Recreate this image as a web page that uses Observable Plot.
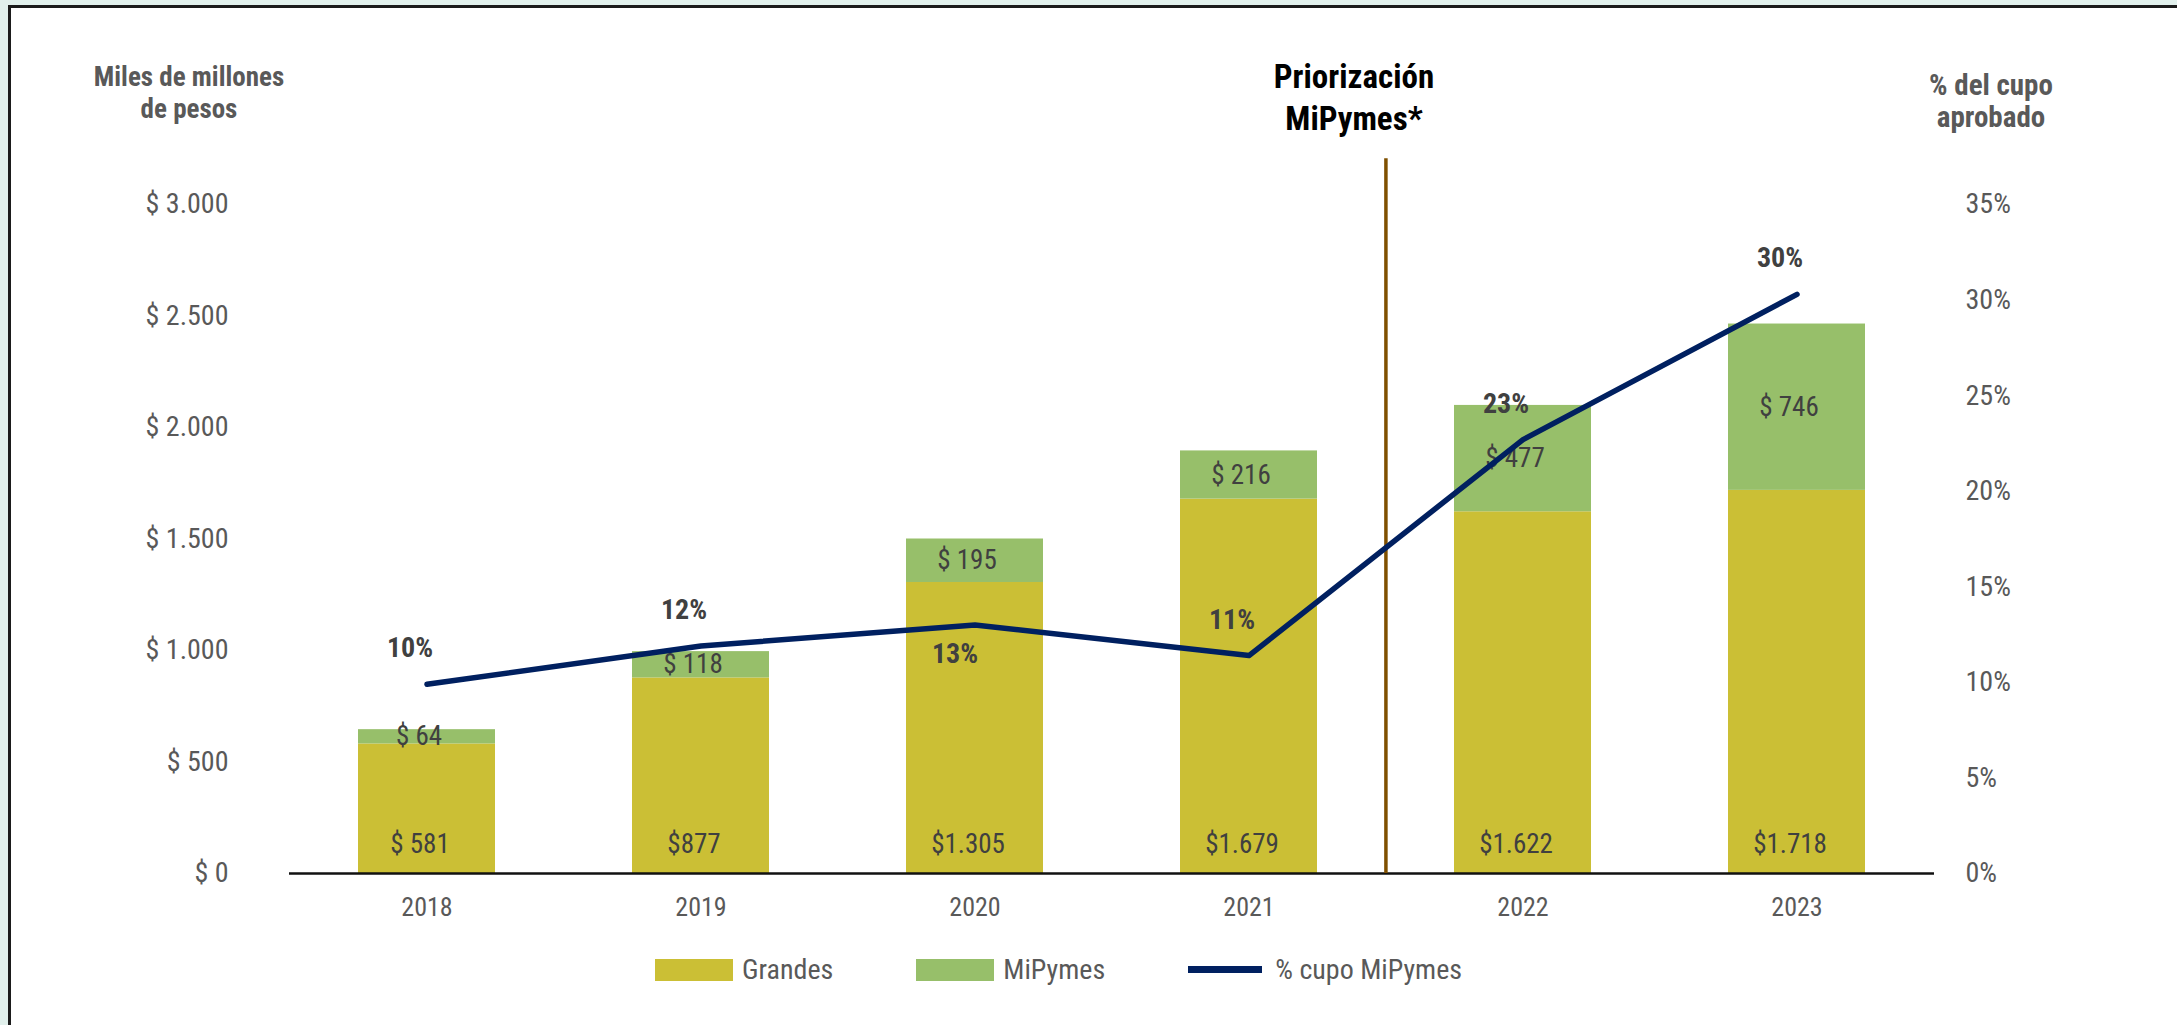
<!DOCTYPE html>
<html>
<head>
<meta charset="utf-8">
<script src="https://cdn.jsdelivr.net/npm/d3@7"></script>
<script src="https://cdn.jsdelivr.net/npm/@observablehq/plot@0.6"></script>
<style>
  html, body { margin: 0; padding: 0; }
  body { width: 2177px; height: 1025px; background: #e1f0ec; position: relative; overflow: hidden;
         font-family: "Liberation Sans Narrow", "Roboto Condensed", Roboto, sans-serif; }
  #frame { position: absolute; left: 8px; top: 5px; width: 2300px; height: 1100px; background: #fff;
           border-left: 3px solid #1b1b1b; border-top: 3px solid #1b1b1b; }
  #chart { position: absolute; left: 0; top: 0; }
  .ttl { position: absolute; text-align: center; font-weight: bold; line-height: 32px; }
  #legend { position: absolute; left: 655px; top: 953px; display: flex;
            align-items: center; font-size: 28px; color: #595959; }
  .item { display: flex; align-items: center; }
  .sw { width: 78px; height: 22px; margin-right: 9px; }
  .ln { width: 74px; height: 7px; margin-right: 13px; }
</style>
</head>
<body>
<div id="frame"></div>
<div id="chart"></div>
<div class="ttl" style="left:39px; top:61px; width:300px; font-size:27px; color:#595959;">Miles de millones<br>de pesos</div>
<div class="ttl" style="left:1154px; top:56px; width:400px; font-size:33px; line-height:42px; color:#000;">Priorización<br>MiPymes*</div>
<div class="ttl" style="left:1841px; top:69px; width:300px; font-size:29px; color:#595959;">% del cupo<br>aprobado</div>
<div id="legend">
  <div class="item"><div class="sw" style="background:#cbbf35"></div><span>Grandes</span></div>
  <div class="item" style="margin-left:83px"><div class="sw" style="background:#97bf6a"></div><span>MiPymes</span></div>
  <div class="item" style="margin-left:83px"><div class="ln" style="background:#002060"></div><span>% cupo MiPymes</span></div>
</div>
<script>
const years = ["2018", "2019", "2020", "2021", "2022", "2023"];
const grandes = [581, 877, 1305, 1679, 1622, 1718];
const mipymes = [64, 118, 195, 216, 477, 746];
const pctMipymes = [9.9, 11.9, 13.0, 11.4, 22.7, 30.3];
const pctLabels = ["10%", "12%", "13%", "11%", "23%", "30%"];
const grandesLabels = ["$ 581", "$877", "$1.305", "$1.679", "$1.622", "$1.718"];
const mipymesLabels = ["$ 64", "$ 118", "$ 195", "$ 216", "$ 477", "$ 746"];
const leftTicks = [0, 500, 1000, 1500, 2000, 2500, 3000];
const rightTicks = [0, 5, 10, 15, 20, 25, 30, 35];
const priorizacionYear = "2022";
const priorizacionTop = 3205;

const W = 2177, H = 940;
const mL = 289, mR = 243, mT = 204, mB = 67;
const yMax = 3000, pctMax = 35;
const toY = p => p / pctMax * yMax;
const step = (W - mL - mR) / years.length;

const rows = [];
years.forEach((y, i) => {
  rows.push({year: y, group: "Grandes", value: grandes[i]});
  rows.push({year: y, group: "MiPymes", value: mipymes[i]});
});
const info = years.map((y, i) => ({year: y, g: grandes[i], m: mipymes[i], pct: pctMipymes[i],
  pl: pctLabels[i], gl: grandesLabels[i], ml: mipymesLabels[i]}));

const fmtMoney = v => "$ " + String(v).replace(/\B(?=(\d{3})+(?!\d))/g, ".");
const font = '"Liberation Sans Narrow", "Roboto Condensed", Roboto, sans-serif';

const chart = Plot.plot({
  width: W, height: H,
  marginLeft: mL, marginRight: mR, marginTop: mT, marginBottom: mB,
  style: {fontFamily: font, background: "transparent", overflow: "visible"},
  x: {domain: years, paddingInner: 0.5, paddingOuter: 0.25, axis: null},
  y: {domain: [0, yMax], axis: null},
  color: {domain: ["Grandes", "MiPymes"], range: ["#cbbf35", "#97bf6a"]},
  marks: [
    Plot.barY(rows, {x: "year", y: "value", fill: "group"}),
    Plot.ruleY([0], {stroke: "#111", strokeWidth: 2.5}),
    Plot.ruleX([priorizacionYear], {x: d => d, dx: -step / 2, y1: 0, y2: priorizacionTop, stroke: "#7f5000", strokeWidth: 3.5}),
    Plot.axisY({anchor: "left", ticks: leftTicks, tickSize: 0, tickPadding: 61, tickFormat: fmtMoney,
      fontSize: 28, color: "#595959", label: null}),
    Plot.axisY({anchor: "right", ticks: rightTicks.map(toY), tickSize: 0, tickPadding: 31,
      tickFormat: v => Math.round(v / yMax * pctMax) + "%", fontSize: 28, color: "#595959", label: null}),
    Plot.axisX({tickSize: 0, tickPadding: 24, fontSize: 26, color: "#595959", label: null}),
    Plot.text(info, {x: "year", y: 0, text: "gl", dy: -29, dx: -7, fontSize: 27, fill: "#404040"}),
    Plot.text(info, {x: "year", y: d => d.g + d.m / 2, text: "ml", dx: -8, fontSize: 27, fill: "#404040"}),
    Plot.line(info, {x: "year", y: d => toY(d.pct), stroke: "#002060", strokeWidth: 5.5}),
    Plot.text(info.filter(d => d.year !== "2020"), {x: "year", y: d => toY(d.pct), text: "pl", dy: -36, dx: -17,
      fontSize: 28, fontWeight: "bold", fill: "#404040"}),
    Plot.text(info.filter(d => d.year === "2020"), {x: "year", y: d => toY(d.pct), text: "pl", dy: 29, dx: -20,
      fontSize: 28, fontWeight: "bold", fill: "#404040"})
  ]
});
document.getElementById("chart").appendChild(chart);
</script>
</body>
</html>
